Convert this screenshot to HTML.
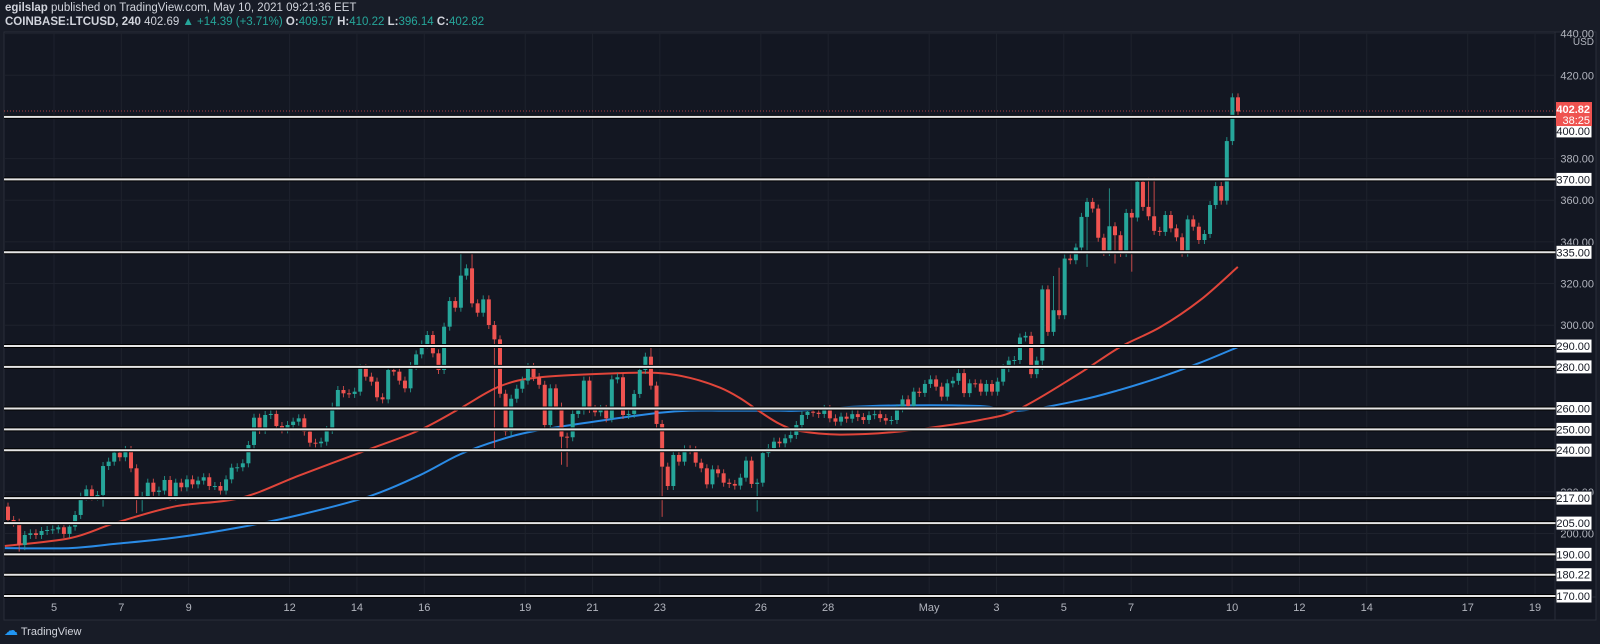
<!DOCTYPE html>
<html><head><meta charset="utf-8"><style>
html,body{margin:0;padding:0;background:#181c27;width:1600px;height:644px;overflow:hidden;font-family:"Liberation Sans",sans-serif}
#hdr1{position:absolute;left:5px;top:2px;font-size:11.5px;color:#d1d4dc}
#hdr2{position:absolute;left:5px;top:16px;font-size:11.5px;color:#d1d4dc;font-weight:bold}
#hdr2 .v{color:#26a69a;font-weight:normal}
#logo{position:absolute;left:4px;top:622px;font-size:11px;color:#d1d4dc}
svg{position:absolute;left:0;top:0}
</style></head><body>
<div id="hdr1"><b>egilslap</b> published on TradingView.com, May 10, 2021 09:21:36 EET</div>
<div id="hdr2">COINBASE:LTCUSD, 240 <span style="font-weight:normal">402.69</span> <span class="v">▲ +14.39 (+3.71%)</span> O:<span class="v">409.57</span> H:<span class="v">410.22</span> L:<span class="v">396.14</span> C:<span class="v">402.82</span></div>
<div id="logo"><span style="color:#2196f3;font-size:14px">☁</span> TradingView</div>
<svg id="chart" width="1600" height="644"></svg>
<script>
const closes=[206.5,205.2,194.5,199.3,200.1,199.3,201.2,201.7,202,203,199.8,203.3,208.9,217.7,221.2,217.7,218.5,232.4,234.5,238.8,236.6,240.1,231.3,217.7,218,224.4,220,220.6,225.7,217.7,224.4,222.2,226,223.6,225.4,227,222.8,222.8,220.6,226,231.6,231.8,233.7,242.5,255.6,249.7,256.9,257.4,251.6,250,252.1,253.7,255.3,248.9,243.6,243.3,244.1,249.7,260.9,268.9,267.3,267,268.1,279.3,275.3,272.9,265.4,264.4,278.5,277.7,273.4,269.7,280.4,286,290.8,
295.3,286.5,278.5,299.3,311.6,308.4,323.8,327.3,310.5,306,312.4,300.1,293.2,267.1,248.9,264.7,269.5,273.4,279.9,275.1,271.4,252.1,269.7,260.9,246.5,246.2,257.4,259,273.4,259.8,258.2,259.8,255.3,274,275,256.9,257.4,267,278.5,284.9,271,252.6,232.1,222.8,237.7,234.5,240.4,240,234,231.3,223.6,230.8,228.9,224.4,223.8,223,226.8,235,223.8,224.4,238.6,241,244.1,243.3,245.7,247.3,252.1,256.9,258.5,258,257.4,259.8,255.3,253.7,256.1,
255.1,257.3,255.9,254.5,256.8,257.3,255.4,254.2,254.5,260.1,264.4,261.2,268.1,267.5,271.8,274,270.5,265.7,272.1,273.3,277,267.4,272.1,272,268.1,271.8,268.1,272.9,279.4,283,283.3,294.1,294.9,276.5,283,317.2,296.8,307.2,304.8,332,331.2,337.3,352,359.2,356,342,335.2,347.5,343.2,334.7,353.9,351.7,368.8,356.8,352.3,345.3,344.8,352.9,346.5,342.2,334.8,350.8,347.3,340.9,343.8,357.7,366.8,359.8,388.4,409.4,402.6];
const firstOpen=212.9;
const wickIdx=[2,3,17,23,24,81,83,87,99,100,115,117,134,185,187,188,193,197,198,201,203,204,205,221,222];
const wickHigh=[null,null,null,null,null,334.5,335.3,null,null,null,290.6,null,null,null,323.6,327.6,null,365.7,null,null,370.2,371,371,413.7,410.5];
const wickLow=[191.3,192,212.9,209.8,210.6,null,null,241,233,232,null,208,210.5,278.6,null,null,328,null,329.6,325.7,null,null,null,null,396];
const maDays=[-1.46,0.48,1.81,3.59,5.53,7.31,9.39,10.87,12.06,13.25,14.44,16.82,18.0,18.9,19.79,20.38,20.97,21.57,22.16,23.35,25.13,27.51,28.7,30.48,31.67,32.86,34.05,35.17];
const maRed=[194,197.8,205,213,217,228,240.6,249.7,260,270.7,275,277,277,274.7,270,265,258.5,252.5,249.2,247.5,249,254.5,260,277,289.5,299,312,328];
const maBlue=[193,193,195,198,203,209,218,228,238,245,249.7,255.5,258,259,259,259,259,259,259,260.5,261.5,261.2,259,264,269,275,282,289.5];
const levels=[400,370,335,290,280,260,250,240,217,205,190,180.22,170];
const levelLabels=["400.00","370.00","335.00","290.00","280.00","260.00","250.00","240.00","217.00","205.00","190.00","180.22","170.00"];
const gridPrices=[440,420,380,360,340,320,300,220,200];
const timeLabels=["5","7","9","12","14","16","19","21","23","26","28","May","3","5","7","10","12","14","17","19"];
const timeDays=[0,2,4,7,9,11,14,16,18,21,23,26,28,30,32,35,37,39,42,44];
const lastPrice=402.82;

const NS="http://www.w3.org/2000/svg";
const svg=document.getElementById('chart');
const L=4,R=1555,T=32,B=597;
const y=p=>596-(p-170)*2.083;
const xd=d=>54+d*33.66;
const xFirst=8,xLast=1238;
const xi=i=>xFirst+i*(xLast-xFirst)/(closes.length-1);
function el(t,a,p){const e=document.createElementNS(NS,t);for(const k in a)e.setAttribute(k,a[k]);(p||svg).appendChild(e);return e;}
const bg=el('rect',{x:L,y:T,width:1596-L,height:620-T,fill:'#131722',stroke:'#2a2e39'});


el('line',{x1:R,y1:T,x2:R,y2:620,stroke:'#2a2e39'});
el('line',{x1:L,y1:B,x2:1596,y2:B,stroke:'#2a2e39'});
const gg=el('g',{});


gridPrices.concat(levels).forEach(p=>{if(y(p)>T&&y(p)<B)el('line',{x1:L,y1:y(p),x2:R,y2:y(p),stroke:'#1e222d'},gg);});
timeDays.forEach(d=>el('line',{x1:xd(d),y1:T,x2:xd(d),y2:B,stroke:'#1e222d'},gg));
timeLabels.forEach((t,i)=>{const e=el('text',{x:xd(timeDays[i]),y:611,fill:'#b2b5be','font-size':11,'text-anchor':'middle'});e.textContent=t;

});
gridPrices.forEach(p=>{const e=el('text',{x:1594,y:y(p)+4,fill:'#b2b5be','font-size':11,'text-anchor':'end'});e.textContent=p.toFixed(2);

});
const usd=el('text',{x:1594,y:45,fill:'#b2b5be','font-size':10,'text-anchor':'end'});usd.textContent='USD';


function maLine(vals,col,name){
const P=vals.map((v,i)=>[xd(maDays[i]),y(v)]);
let d='M'+P[0][0]+','+P[0][1];
for(let i=0;i<P.length-1;i++){const p0=P[Math.max(0,i-1)],p1=P[i],p2=P[i+1],p3=P[Math.min(P.length-1,i+2)];
const c1=[p1[0]+(p2[0]-p0[0])/6,p1[1]+(p2[1]-p0[1])/6],c2=[p2[0]-(p3[0]-p1[0])/6,p2[1]-(p3[1]-p1[1])/6];
d+=' C'+c1[0]+','+c1[1]+' '+c2[0]+','+c2[1]+' '+p2[0]+','+p2[1];}
const e=el('path',{d:d,fill:'none',stroke:col,'stroke-width':2});

}
maLine(maBlue,'#2a8be6','ma-blue-line');
maLine(maRed,'#e0453a','ma-red-line');
const cg=el('g',{});


closes.forEach((c,i)=>{const o=i?closes[i-1]:firstOpen;const up=c>=o;const col=up?'#26a69a':'#ef5350';
const k=wickIdx.indexOf(i);let hi=Math.max(o,c),lo=Math.min(o,c);
let yh=y(hi)-4,yl=y(lo)+4;
if(k>=0){if(wickHigh[k]!=null)yh=y(wickHigh[k]);if(wickLow[k]!=null)yl=y(wickLow[k]);}
const x=xi(i);
const w=el('line',{x1:x,y1:yh,x2:x,y2:yl,stroke:col,'stroke-width':1,opacity:0.8},cg);


const b=el('rect',{x:x-2,y:y(hi),width:4,height:Math.max(1,y(lo)-y(hi)),fill:col},cg);

});
el('line',{x1:L,y1:y(lastPrice),x2:R,y2:y(lastPrice),stroke:'#ef5350','stroke-dasharray':'1,2',opacity:0.7});
levels.forEach((p,i)=>{const yy=y(p);
const ln=el('line',{x1:L,y1:yy,x2:R,y2:yy,stroke:'#000','stroke-width':4});


const l2=el('line',{x1:L,y1:yy,x2:R+6,y2:yy,stroke:'#e6e6e6','stroke-width':2});


let ly=yy;if(p===400)ly=yy+14;
const bx=el('rect',{x:1556,y:ly-7,width:36,height:14,fill:'#fff',stroke:'#131722'});


const t=el('text',{x:1590,y:ly+4,fill:'#131722','font-size':11,'text-anchor':'end'});t.textContent=levelLabels[i];

});
const pb=el('rect',{x:1556,y:y(lastPrice)-9,width:36,height:24,fill:'#ef5350'});


const pt=el('text',{x:1590,y:y(lastPrice)+2,fill:'#fff','font-size':11,'font-weight':'bold','text-anchor':'end'});pt.textContent=lastPrice.toFixed(2);


const ct=el('text',{x:1590,y:y(lastPrice)+13,fill:'#fff','font-size':11,'text-anchor':'end'});ct.textContent='38:25';


</script>
</body></html>
